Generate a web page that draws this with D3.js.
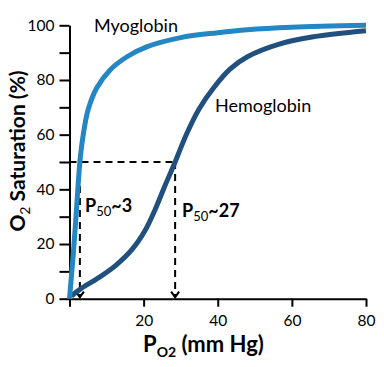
<!DOCTYPE html>
<html><head><meta charset="utf-8">
<script src="https://cdn.jsdelivr.net/npm/d3@7"></script>
<style>
html,body{margin:0;padding:0;background:#fff;}
text{font-family:Lato,"Open Sans",sans-serif;fill:#000;}
</style></head>
<body><svg id="c" width="384" height="367"></svg>
<script>
// ---- data ----
const xTicks = [0, 20, 40, 60, 80];
const xTickLabels = ["", "20", "40", "60", "80"];
const yMajorTicks = [0, 20, 40, 60, 80, 100];
const yMinorTicks = [10, 30, 50, 70, 90];
const myoglobin = [[0,0],[0.5,8],[1,16],[1.6,27],[2.2,39],[2.8,50],[3.6,59],[5,69],[7.3,77],[10.9,83.6],[15.4,88.4],[20.8,92.1],[30,95.5],[40,97.3],[48,98.4],[60,99.3],[80,100]];
const hemoglobin = [[0.5,1],[3,3.6],[8,7.8],[12.5,12.2],[17,18.2],[20.5,25.2],[23,32.3],[25.5,40.5],[28.5,50],[31.5,60],[35,69.5],[38.8,77],[43.3,84],[48,88.5],[56.8,93.2],[65.8,95.8],[80,98]];
const p50Myo = 2.8, p50Hb = 28.5, halfSat = 50;
const labels = {myo: "Myoglobin", hb: "Hemoglobin"};

const svg = d3.select("#c");
const x = d3.scaleLinear().domain([0, 80]).range([69.5, 366]);
const y = d3.scaleLinear().domain([0, 100]).range([298.7, 25.3]);

// axes
const xAxis = d3.axisBottom(x).tickValues(xTicks).tickSize(8).tickSizeOuter(0)
  .tickFormat((d, i) => xTickLabels[i]);
const gx = svg.append("g").attr("transform", `translate(0,${y(0)})`).call(xAxis);
gx.select(".domain").attr("stroke", "#000").attr("stroke-width", 2);
gx.selectAll(".tick line").attr("stroke", "#000").attr("stroke-width", 2);
gx.selectAll(".tick text").attr("y", 27.5).attr("dy", 0)
  .style("font-size", "15.5px").style("font-family", "Lato");

const yAxis = d3.axisLeft(y).tickValues(yMajorTicks).tickSize(10).tickPadding(5).tickSizeOuter(0);
const gy = svg.append("g").attr("transform", `translate(${x(0)},0)`).call(yAxis);
gy.select(".domain").attr("stroke", "#000").attr("stroke-width", 2);
gy.selectAll(".tick line").attr("stroke", "#000").attr("stroke-width", 2);
gy.selectAll(".tick text").style("font-size", "15.5px").style("font-family", "Lato");
const gyMinor = svg.append("g").attr("transform", `translate(${x(0)},0)`)
  .call(d3.axisLeft(y).tickValues(yMinorTicks).tickSize(10).tickFormat("").tickSizeOuter(0));
gyMinor.select(".domain").remove();
gyMinor.selectAll(".tick line").attr("stroke", "#000").attr("stroke-width", 2);

// dashed guides
const dash = svg.append("g").attr("stroke", "#000").attr("stroke-width", 2)
  .attr("stroke-dasharray", "7,5").attr("fill", "none");
dash.append("line").attr("x1", x(0)).attr("x2", x(p50Hb)).attr("y1", y(halfSat)).attr("y2", y(halfSat));
[p50Myo, p50Hb].forEach(p => {
  dash.append("line").attr("x1", x(p)).attr("x2", x(p)).attr("y1", y(halfSat)).attr("y2", y(0) - 2);
  svg.append("path").attr("fill", "none").attr("stroke", "#000").attr("stroke-width", 2)
    .attr("d", `M${x(p) - 4},${y(0) - 7}L${x(p)},${y(0) - 1.5}L${x(p) + 4},${y(0) - 7}`);
});

// curves
const line = d3.line().x(d => x(d[0])).y(d => y(d[1])).curve(d3.curveCatmullRom.alpha(0.5));
svg.append("path").datum(hemoglobin).attr("d", line).attr("fill", "none")
  .attr("stroke", "#22507e").attr("stroke-width", 5);
svg.append("path").datum(myoglobin).attr("d", line).attr("fill", "none")
  .attr("stroke", "#2586c4").attr("stroke-width", 5);

// labels
svg.append("text").attr("x", 94).attr("y", 32).style("font-size", "18px").text(labels.myo);
svg.append("text").attr("x", 215).attr("y", 111.5).style("font-size", "18px").text(labels.hb);

function p50Label(xp, yp, val) {
  const t = svg.append("text").attr("x", xp).attr("y", yp)
    .style("font-size", "18px").style("font-weight", "bold");
  t.append("tspan").text("P");
  t.append("tspan").attr("dy", 4).style("font-size", "13px").style("font-weight", "normal").text("50");
  t.append("tspan").attr("dy", -4).text("~" + val);
}
p50Label(85, 212, "3");
p50Label(182, 217, "27");

// axis titles
const xt = svg.append("text").attr("x", 143).attr("y", 351.5)
  .style("font-size", "22px").style("font-weight", "bold");
xt.append("tspan").text("P");
xt.append("tspan").attr("dy", 5).style("font-size", "14px").text("O2");
xt.append("tspan").attr("dy", -5).text(" (mm Hg)");

const yt = svg.append("text").attr("transform", "translate(25,151) rotate(-90)")
  .attr("text-anchor", "middle").style("font-size", "21px").style("font-weight", "bold");
yt.append("tspan").text("O");
yt.append("tspan").attr("dy", 5).style("font-size", "14px").style("font-weight", "normal").text("2");
yt.append("tspan").attr("dy", -5).text(" Saturation (%)");
</script></body></html>
